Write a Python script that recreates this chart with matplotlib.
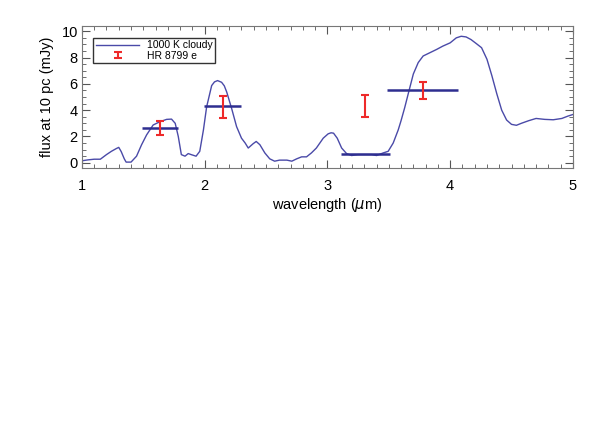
import numpy as np
import matplotlib
matplotlib.use('Agg')
import matplotlib.pyplot as plt
from matplotlib.ticker import MultipleLocator
from matplotlib.legend_handler import HandlerErrorbar
from matplotlib.container import ErrorbarContainer

plt.rcParams['font.family'] = ['Liberation Sans', 'DejaVu Sans']

# model spectrum
wave = [1.00, 1.05, 1.10, 1.15, 1.20, 1.24, 1.28, 1.30, 1.32, 1.345, 1.36, 1.40, 1.445, 1.486,
        1.527, 1.58, 1.635, 1.69, 1.73, 1.76, 1.785, 1.81, 1.84, 1.866, 1.89, 1.93,
        1.96, 1.99, 2.016, 2.057, 2.08, 2.105, 2.138, 2.16, 2.18, 2.22, 2.26, 2.30, 2.33, 2.355,
        2.395, 2.42, 2.45, 2.49, 2.53, 2.57, 2.61, 2.67, 2.71, 2.75, 2.79, 2.83,
        2.87, 2.91, 2.966, 3.006, 3.03, 3.05, 3.08, 3.116, 3.156, 3.197, 3.25, 3.305, 3.36,
        3.40, 3.455, 3.495, 3.536, 3.577, 3.60, 3.63, 3.66, 3.70, 3.74, 3.78, 3.835, 3.89,
        3.94, 4.00, 4.05, 4.09, 4.13, 4.17, 4.215, 4.256, 4.30, 4.34, 4.38, 4.42,
        4.46, 4.50, 4.54, 4.58, 4.64, 4.70, 4.77, 4.84, 4.91, 4.96, 5.00]
flux = [0.15, 0.22, 0.27, 0.27, 0.62, 0.87, 1.08, 1.17, 0.85, 0.3, 0.05, 0.05, 0.5, 1.37,
        2.12, 2.87, 3.12, 3.3, 3.32, 3.0, 2.0, 0.62, 0.5, 0.7, 0.62, 0.5,
        0.87, 2.5, 4.25, 5.87, 6.15, 6.25, 6.12, 5.85, 5.37, 4.12, 2.75, 1.87, 1.5, 1.12,
        1.45, 1.62, 1.37, 0.75, 0.3, 0.12, 0.2, 0.2, 0.12, 0.3, 0.45, 0.45,
        0.75, 1.12, 1.87, 2.2, 2.28, 2.25, 1.87, 1.12, 0.7, 0.55, 0.62, 0.62, 0.62,
        0.55, 0.75, 0.87, 1.5, 2.5, 3.2, 4.2, 5.3, 6.75, 7.62, 8.12, 8.37, 8.62,
        8.87, 9.12, 9.5, 9.62, 9.57, 9.37, 9.05, 8.75, 7.87, 6.62, 5.25, 4.0,
        3.25, 2.92, 2.85, 3.0, 3.2, 3.37, 3.3, 3.27, 3.37, 3.55, 3.67]

# band-averaged model flux
band_wave = [1.637, 2.148, 3.308, 3.778]
band_halfwidth = [0.147, 0.152, 0.20, 0.29]
band_flux = [2.67, 4.3, 0.7, 5.55]

# HR 8799 e photometry
obs_wave = [1.635, 2.146, 3.305, 3.78]
obs_flux = [2.67, 4.25, 4.31, 5.5]
obs_err = [0.53, 0.82, 0.84, 0.62]

fig = plt.figure(figsize=(5.98, 4.41), dpi=100)
ax = fig.add_axes([0.137, 0.619, 0.821, 0.322])

ax.plot(wave, flux, color='#4a4aa8', lw=1.0, label='1000 K cloudy')
ax.errorbar(band_wave, band_flux, xerr=band_halfwidth, fmt='none',
            ecolor='#2e2e90', elinewidth=1.8, capsize=0)
ax.errorbar(obs_wave, obs_flux, yerr=obs_err, fmt='none', ecolor='#ee2a2a',
            elinewidth=1.5, capsize=3, capthick=1.5, label='HR 8799 e')

ax.set_xlim(1, 5)
ax.set_ylim(-0.4, 10.4)
ax.xaxis.set_major_locator(MultipleLocator(1))
ax.xaxis.set_minor_locator(MultipleLocator(0.1))
ax.yaxis.set_major_locator(MultipleLocator(2))
ax.yaxis.set_minor_locator(MultipleLocator(0.5))
ax.tick_params(which='both', direction='in', top=True, right=True,
               labelsize=10.5, color='#555555')
ax.tick_params(which='major', length=6)
ax.tick_params(which='minor', length=3)
ax.tick_params(axis='x', pad=8)
ax.tick_params(axis='y', pad=3)
for s in ax.spines.values():
    s.set_color('#777777')

ax.set_xlabel(r'wavelength ($\mu$m)', fontsize=10.5, labelpad=2)
ax.set_ylabel('flux at 10 pc (mJy)', fontsize=10.5, labelpad=5)

leg = ax.legend(loc='upper left', bbox_to_anchor=(0.012, 0.955), fontsize=7.5,
                frameon=True, fancybox=False, edgecolor='black',
                handlelength=4.2, borderpad=0.25, labelspacing=0.05,
                handletextpad=0.7,
                handler_map={ErrorbarContainer: HandlerErrorbar(yerr_size=0.32)})
leg.get_frame().set_linewidth(1.0)

fig.savefig('out.png', dpi=100)
